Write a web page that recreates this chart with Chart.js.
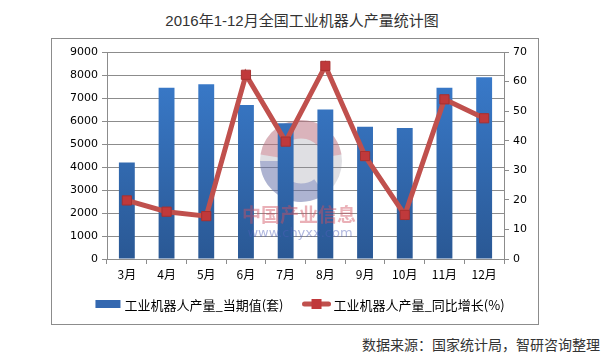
<!DOCTYPE html>
<html><head><meta charset="utf-8">
<script src="https://cdn.jsdelivr.net/npm/chart.js@4/dist/chart.umd.min.js"></script>
<style>
html,body{margin:0;padding:0;background:#fff;width:604px;height:357px;overflow:hidden;position:relative;font-family:"Liberation Sans","Noto Sans CJK SC",sans-serif;}
#title{position:absolute;left:0;top:9px;width:604px;text-align:center;font-size:15px;color:#333;}
#box{position:absolute;left:51px;top:38px;width:486px;height:285px;border:1px solid #8c8c8c;}
#src{position:absolute;left:362px;top:334px;font-size:14px;color:#333;white-space:nowrap;}
</style></head>
<body>
<div id="title">2016年1-12月全国工业机器人产量统计图</div>
<div id="box"><canvas id="c" width="486" height="285"></canvas></div>
<div id="src">数据来源：国家统计局，智研咨询整理</div>
<script>
const categories = ["3月","4月","5月","6月","7月","8月","9月","10月","11月","12月"];
const outputValues = [4200,7450,7600,6700,5900,6500,5750,5700,7450,7900];
const growthValues = [19.8,16.0,14.5,62.3,39.7,65.3,34.8,14.9,54.0,47.6];
const leftTicks = [0,9000,1000];
const rightTicks = [0,70,10];
const seriesNames = ["工业机器人产量_当期值(套)","工业机器人产量_同比增长(%)"];

const watermark={id:'wm',beforeDatasetsDraw(chart){const ctx=chart.ctx;ctx.save();
 const cx=249,cy=122,r=41;
 ctx.globalAlpha=0.28;ctx.fillStyle='#8c8c9c';ctx.beginPath();ctx.arc(cx,cy,r,0,Math.PI*2);ctx.fill();
 ctx.globalAlpha=0.35;ctx.fillStyle='#d06070';ctx.beginPath();ctx.arc(cx,cy,r,Math.PI*1.05,Math.PI*1.95);ctx.arc(cx,cy,r*0.55,Math.PI*1.95,Math.PI*1.05,true);ctx.fill();
 ctx.fillStyle='#5060b0';ctx.beginPath();ctx.arc(cx,cy,r,Math.PI*0.3,Math.PI*1.0);ctx.arc(cx,cy,r*0.55,Math.PI*1.0,Math.PI*0.3,true);ctx.fill();
 ctx.restore();},
 afterDatasetsDraw(chart){const ctx=chart.ctx;ctx.save();ctx.globalAlpha=0.45;ctx.textAlign='center';
 ctx.fillStyle='#d05060';ctx.font='bold 19px "Noto Sans CJK SC"';ctx.fillText('中国产业信息',247,183);
 ctx.fillStyle='#5060b8';ctx.font='13px "DejaVu Sans"';ctx.fillText('www.chyxx.com',248,198);ctx.restore();}};

const customLegend={id:'customLegend',afterDraw(chart){
 const ctx=chart.ctx;ctx.save();
 ctx.font='13px "Noto Sans CJK SC"';ctx.textBaseline='middle';ctx.fillStyle='#000';
 const ds=chart.data.datasets;
 const w0=ctx.measureText(ds[0].label).width, w1=ctx.measureText(ds[1].label).width;
 const total=25+4+w0+18+30+2+w1;
 let x=chart.width/2+5-total/2; const y=265;
 ctx.fillStyle='#3468b0';ctx.fillRect(x,y-4,25,8);
 x+=29;ctx.fillStyle='#000';ctx.fillText(ds[0].label,x,y+1);
 x+=w0+18;
 ctx.strokeStyle='#c0504d';ctx.lineWidth=5;ctx.lineCap='round';ctx.beginPath();ctx.moveTo(x+3,y);ctx.lineTo(x+27,y);ctx.stroke();
 ctx.fillStyle='#c0393b';ctx.fillRect(x+10,y-5,10,10);
 x+=32;ctx.fillStyle='#000';ctx.fillText(ds[1].label,x,y+1);
 ctx.restore();}};

const ctx=document.getElementById('c').getContext('2d');
new Chart(ctx,{
 data:{labels:categories,datasets:[
  {type:'bar',label:seriesNames[0],data:outputValues,yAxisID:'y',order:1,barPercentage:0.4,categoryPercentage:1,
   backgroundColor:(c)=>{const a=c.chart.chartArea;if(!a)return '#3468b0';const g=c.chart.ctx.createLinearGradient(0,a.top,0,a.bottom);g.addColorStop(0,'#3b7ed0');g.addColorStop(1,'#2a5894');return g;}},
  {type:'line',label:seriesNames[1],data:growthValues,yAxisID:'y1',order:0,borderColor:'#c0504d',borderWidth:5,pointStyle:'rect',pointRadius:6.5,pointBackgroundColor:'#c0393b',pointBorderColor:'#a83030',pointBorderWidth:1,tension:0}
 ]},
 plugins:[watermark,customLegend],
 options:{responsive:false,animation:false,
  layout:{padding:{top:13,right:0,left:0,bottom:38}},
  plugins:{title:{display:false},tooltip:{enabled:false},legend:{display:false}},
  scales:{
   x:{grid:{offset:true,drawOnChartArea:false,tickLength:5,color:'#8c8c8c'},border:{color:'#8c8c8c'},ticks:{color:'#000',font:{size:12,family:'"Noto Sans CJK SC"'},padding:3},afterFit(s){s.height=27;}},
   y:{position:'left',min:leftTicks[0],max:leftTicks[1],ticks:{stepSize:leftTicks[2],color:'#000',font:{size:11,family:'"DejaVu Sans"'},padding:4,callback:v=>String(v)},grid:{color:'#8c8c8c',tickLength:5},border:{color:'#8c8c8c'},afterFit(s){s.width=55;}},
   y1:{position:'right',min:rightTicks[0],max:rightTicks[1],ticks:{stepSize:rightTicks[2],color:'#000',font:{size:11,family:'"DejaVu Sans"'},padding:4,callback:v=>String(v)},grid:{drawOnChartArea:false,color:'#8c8c8c',tickLength:5},border:{color:'#8c8c8c'},afterFit(s){s.width=34;}}
  }}
});
</script></body></html>
